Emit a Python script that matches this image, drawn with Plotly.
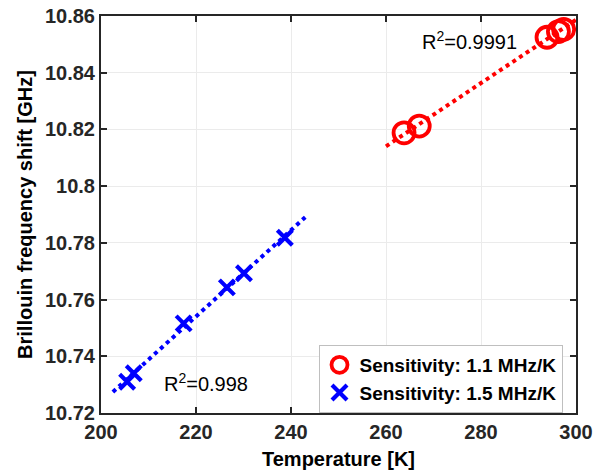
import numpy as np
import plotly.graph_objects as go

# Data
red_T = [263.8, 267.0, 293.9, 296.3, 297.4]
red_f = [10.8188, 10.8212, 10.8525, 10.8545, 10.8553]
blue_T = [205.5, 206.9, 217.4, 226.5, 230.1, 238.7]
blue_f = [10.7310, 10.7340, 10.7516, 10.7643, 10.7693, 10.7818]
red_fit_T = [260.0, 300.0]
blue_fit_T = [202.5, 243.0]
red_label = "Sensitivity: 1.1 MHz/K"
blue_label = "Sensitivity: 1.5 MHz/K"
red_r2 = "R<sup>2</sup>=0.9991"
blue_r2 = "R<sup>2</sup>=0.998"
x_ticks = [200, 220, 240, 260, 280, 300]
y_ticks = [10.72, 10.74, 10.76, 10.78, 10.80, 10.82, 10.84, 10.86]
y_ticktext = ["10.72", "10.74", "10.76", "10.78", "10.8", "10.82", "10.84", "10.86"]

FONT = "Liberation Sans, Arial, Helvetica"

pr = np.polyfit(red_T, red_f, 1)
pb = np.polyfit(blue_T, blue_f, 1)

fig = go.Figure()
fig.add_trace(go.Scatter(x=red_fit_T, y=list(np.polyval(pr, red_fit_T)), mode="lines",
                         line=dict(color="#ff0000", width=4, dash="dot"), showlegend=False))
fig.add_trace(go.Scatter(x=blue_fit_T, y=list(np.polyval(pb, blue_fit_T)), mode="lines",
                         line=dict(color="#0000ff", width=4, dash="dot"), showlegend=False))
fig.add_trace(go.Scatter(x=red_T, y=red_f, mode="markers", name=red_label,
                         marker=dict(symbol="circle-open", size=21, color="#ff0000",
                                     line=dict(width=3.8, color="#ff0000"))))
fig.add_trace(go.Scatter(x=blue_T, y=blue_f, mode="markers", name=blue_label,
                         marker=dict(symbol="x-thin-open", size=15, color="#0000ff",
                                     line=dict(width=4.2, color="#0000ff"))))

fig.add_annotation(x=277.5, y=10.8515, xref="x", yref="y", text=red_r2, showarrow=False,
                   font=dict(family=FONT, size=20, color="#000000"))
fig.add_annotation(x=222.1, y=10.7306, xref="x", yref="y", text=blue_r2, showarrow=False,
                   font=dict(family=FONT, size=20, color="#000000"))

axis_common = dict(showline=True, mirror="ticks", linecolor="#262626", linewidth=2,
                   ticks="inside", ticklen=6, tickwidth=1.5, tickcolor="#262626",
                   showgrid=True, gridcolor="#ebebeb", gridwidth=1, zeroline=False,
                   ticklabeloverflow="allow",
                   tickfont=dict(family=FONT, size=20, color="#262626", weight="bold"))

fig.update_xaxes(range=[200, 300], tickvals=x_ticks,
                 ticktext=[str(v) for v in x_ticks],
                 title=dict(text="Temperature [K]", standoff=10,
                            font=dict(family=FONT, size=20, color="#000000", weight="bold")),
                 **axis_common)
fig.update_yaxes(range=[10.72, 10.86], tickvals=y_ticks,
                 ticktext=y_ticktext,
                 title=dict(text="Brillouin frequency shift [GHz]", standoff=7,
                            font=dict(family=FONT, size=20, color="#000000", weight="bold")),
                 **axis_common)

fig.update_layout(
    width=605, height=476,
    margin=dict(l=100.5, r=28.5, t=16, b=63, autoexpand=False),
    plot_bgcolor="white", paper_bgcolor="white",
    legend=dict(x=0.9716, y=0.0, xanchor="right", yanchor="bottom",
                bgcolor="white", bordercolor="#bfbfbf", borderwidth=1,
                font=dict(family=FONT, size=19, color="#000000", weight="bold"),
                itemwidth=30, tracegroupgap=0),
)

fig.write_html("out.html", config={"displayModeBar": False},
               post_script="document.body.style.margin='0';")
